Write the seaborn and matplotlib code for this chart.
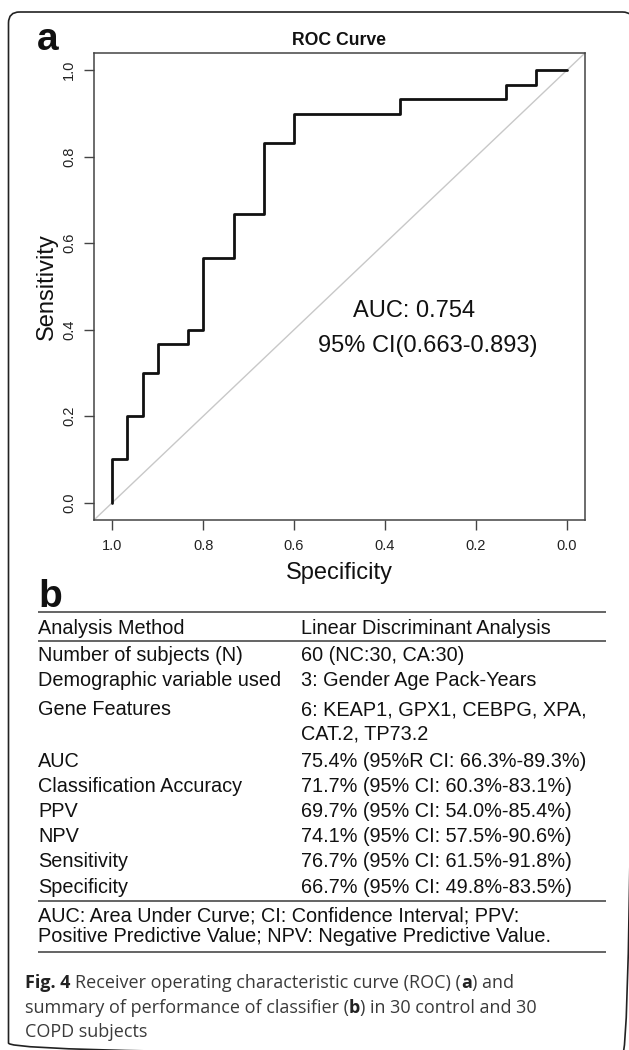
import matplotlib
matplotlib.use("Agg")
import matplotlib.pyplot as plt
import seaborn as sns
import pandas as pd
from matplotlib.patches import FancyBboxPatch

# ---------------- data ----------------
specificity = [1.0, 1.0, 0.967, 0.967, 0.933, 0.933, 0.9, 0.9, 0.833, 0.833, 0.8, 0.8,
               0.733, 0.733, 0.667, 0.667, 0.6, 0.6, 0.367, 0.367, 0.133, 0.133,
               0.067, 0.067, 0.0]
sensitivity = [0.0, 0.1, 0.1, 0.2, 0.2, 0.3, 0.3, 0.367, 0.367, 0.4, 0.4, 0.567,
               0.567, 0.667, 0.667, 0.833, 0.833, 0.9, 0.9, 0.933, 0.933, 0.967,
               0.967, 1.0, 1.0]
x_ticks = [1.0, 0.8, 0.6, 0.4, 0.2, 0.0]
y_ticks = [0.0, 0.2, 0.4, 0.6, 0.8, 1.0]
auc_label = "AUC: 0.754"
ci_label = "95% CI(0.663-0.893)"

table_labels = ["Analysis Method", "Number of subjects (N)", "Demographic variable used",
                "Gene Features", "", "AUC", "Classification Accuracy", "PPV", "NPV",
                "Sensitivity", "Specificity"]
table_values = ["Linear Discriminant Analysis", "60 (NC:30, CA:30)",
                "3: Gender Age Pack-Years", "6: KEAP1, GPX1, CEBPG, XPA,", "CAT.2, TP73.2",
                "75.4% (95%R CI: 66.3%-89.3%)", "71.7% (95% CI: 60.3%-83.1%)",
                "69.7% (95% CI: 54.0%-85.4%)", "74.1% (95% CI: 57.5%-90.6%)",
                "76.7% (95% CI: 61.5%-91.8%)", "66.7% (95% CI: 49.8%-83.5%)"]
footnote_lines = ["AUC: Area Under Curve; CI: Confidence Interval; PPV:",
                  "Positive Predictive Value; NPV: Negative Predictive Value."]
caption_lines = [
    [("Fig. 4", True), (" ", False), ("Receiver operating characteristic curve (ROC) (", False),
     ("a", True), (") and", False)],
    [("summary of performance of classifier (", False), ("b", True),
     (") in 30 control and 30", False)],
    [("COPD subjects", False)],
]

# ---------------- style ----------------
sns.set_theme(style="white")
plt.rcParams['font.family'] = ['Liberation Sans', 'DejaVu Sans']

W, H = 629, 1050
fig = plt.figure(figsize=(W / 100, H / 100), dpi=100)
fig.patch.set_facecolor("white")

# background canvas in pixel units
bg = fig.add_axes([0, 0, 1, 1], zorder=0)
bg.set_xlim(0, W)
bg.set_ylim(H, 0)
bg.axis("off")

frame = FancyBboxPatch((8.5, 12), 625, 1042, boxstyle="round,pad=0,rounding_size=11",
                       fill=False, edgecolor="#222222", linewidth=1.2)
bg.add_patch(frame)

bg.text(37, 50, "a", fontsize=28, fontweight="bold", ha="left", va="baseline", color="#111111")
bg.text(38, 607, "b", fontsize=28, fontweight="bold", ha="left", va="baseline", color="#111111")

# ---------------- ROC plot ----------------
ax = fig.add_axes([94 / W, 1 - 520 / H, 491 / W, 467 / H], zorder=1)
df = pd.DataFrame({"Specificity": specificity, "Sensitivity": sensitivity})
ax.axline((0, 1), (1, 0), color="#c8c8c8", lw=1.0, zorder=1)
sns.lineplot(data=df, x="Specificity", y="Sensitivity", sort=False, estimator=None,
             color="#111111", linewidth=2.0, ax=ax, zorder=2)
ax.set_xlim(1.04, -0.04)
ax.set_ylim(-0.04, 1.04)
ax.set_xticks(x_ticks)
ax.set_xticklabels([f"{v:.1f}" for v in x_ticks])
ax.set_yticks(y_ticks)
ax.set_yticklabels([f"{v:.1f}" for v in y_ticks], rotation=90, va="center")
ax.tick_params(axis="both", bottom=True, left=True, direction="out", length=7, width=1.0,
               color="#444444", labelsize=10.5, labelcolor="#222222")
ax.tick_params(axis="x", pad=7)
ax.tick_params(axis="y", pad=6)
for s in ax.spines.values():
    s.set_color("#444444")
    s.set_linewidth(1.1)
ax.set_title("ROC Curve", fontsize=12.7, fontweight="bold", pad=5.8, color="#111111")
ax.set_xlabel("Specificity", fontsize=17, color="#111111")
ax.xaxis.set_label_coords(0.5, -0.09)
ax.set_ylabel("Sensitivity", fontsize=17, color="#111111")
ax.yaxis.set_label_coords(-0.0743, 0.5)
ax.text(0.470, 0.429, auc_label, fontsize=17, ha="left", va="baseline", color="#111111")
ax.text(0.547, 0.349, ci_label, fontsize=17, ha="left", va="baseline", color="#111111")

# ---------------- table ----------------
tx0, tx1, tx_val = 38, 606, 301
row_base = [634, 661, 686, 715, 740, 767, 792, 817, 842, 867, 893]
for lab, val, yb in zip(table_labels, table_values, row_base):
    bg.text(tx0, yb, lab, fontsize=14.3, ha="left", va="baseline", color="#111111")
    bg.text(tx_val, yb, val, fontsize=14.3, ha="left", va="baseline", color="#111111")
for yl in [612, 641, 901, 952]:
    bg.plot([tx0, tx1], [yl, yl], color="#4a4a4a", lw=1.2, solid_capstyle="butt")
for line, yb in zip(footnote_lines, [921, 942]):
    bg.text(tx0, yb, line, fontsize=14.3, ha="left", va="baseline", color="#111111")

# ---------------- caption ----------------
renderer = fig.canvas.get_renderer()
cap_size = 13
space_px = 0.26 * cap_size * 100 / 72
for segs, yb in zip(caption_lines, [988, 1013, 1037]):
    x = 25
    for text, bold in segs:
        if text == " ":
            x += space_px
            continue
        t = bg.text(x, yb, text, fontsize=cap_size, family=["Open Sans", "DejaVu Sans"],
                    fontweight="bold" if bold else "normal", ha="left", va="baseline",
                    color="#222222" if bold else "#3a3a3a")
        bb = t.get_window_extent(renderer)
        x += bb.width

fig.savefig("out.png", dpi=100, facecolor="white")
